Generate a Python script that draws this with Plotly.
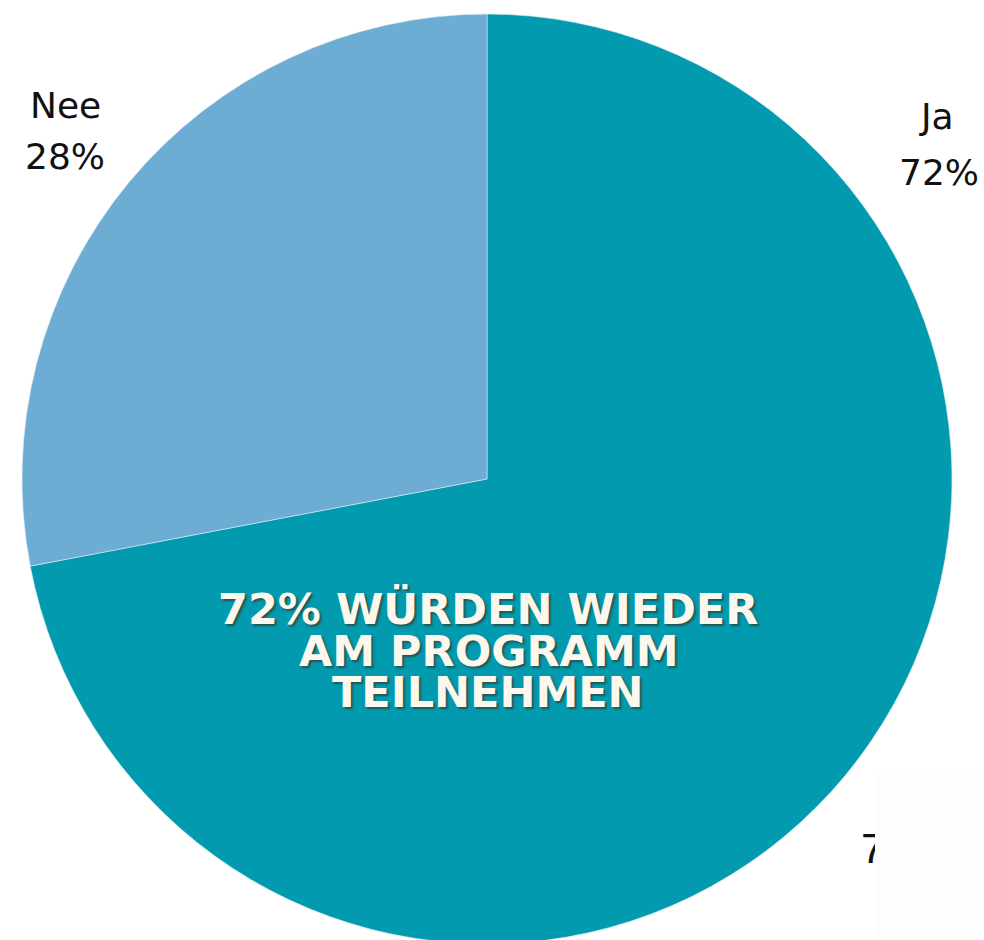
import plotly.graph_objects as go

# Survey answers: would participants join the programme again?
labels = ["Ja", "Nee"]
values = [72, 28]
colors = ["#029AAE", "#6DACD3"]
headline = ["WÜRDEN WIEDER", "AM PROGRAMM", "TEILNEHMEN"]

W, H = 984, 950
ML, MR, MT, MB = 22, 32, 14, 6
PW, PH = W - ML - MR, H - MT - MB

total = sum(values)
pct = [round(v * 100 / total) for v in values]

fig = go.Figure(
    go.Pie(
        labels=labels,
        values=values,
        sort=False,
        direction="clockwise",
        rotation=0,
        marker=dict(colors=colors, line=dict(color="#DDEFF3", width=0.6)),
        textinfo="none",
        hoverinfo="label+percent",
        showlegend=False,
    )
)

# plot area sized so the pie is 930 px across, centred at (487, 479)
fig.update_layout(
    width=W,
    height=H,
    margin=dict(l=ML, r=MR, t=MT, b=MB),
    paper_bgcolor="white",
    plot_bgcolor="white",
)


def px(x):
    return (x - ML) / PW


def py(y):
    return 1 - (y - MT) / PH


def note(x, y, text, font, **kw):
    d = dict(x=px(x), y=py(y), text=text, showarrow=False,
             xref="paper", yref="paper", xanchor="center", yanchor="middle",
             font=font)
    d.update(kw)
    return d


label_font = dict(family="DejaVu Sans", size=36, color="#111111")
annotations = [
    note(65, 105, labels[1], label_font),
    note(65, 156, f"{pct[1]}%", label_font),
    note(936, 117, labels[0], label_font),
    note(939, 172, f"{pct[0]}%", label_font),
    # secondary value label at the lower right, mostly under the cover box below
    note(859, 848, f"{pct[0]}%", dict(family="Liberation Sans", size=43, color="#111111"),
         xanchor="left"),
    note(875, 775, " ", dict(size=10), xanchor="left", yanchor="top",
         width=109, height=175, bgcolor="#FDFDFD", borderpad=0, borderwidth=0),
]

head_lines = [f"{pct[0]}% {headline[0]}", headline[1], headline[2]]
head_y = [609, 651, 692]
head_font = dict(family="DejaVu Sans", size=43, weight=700, color="#FDF8EE",
                 shadow="2px 2px 2px rgba(60,40,20,0.6)")
for line, yy in zip(head_lines, head_y):
    annotations.append(note(488, yy, line, head_font))

fig.update_layout(annotations=annotations)

fig.write_html("out.html")
